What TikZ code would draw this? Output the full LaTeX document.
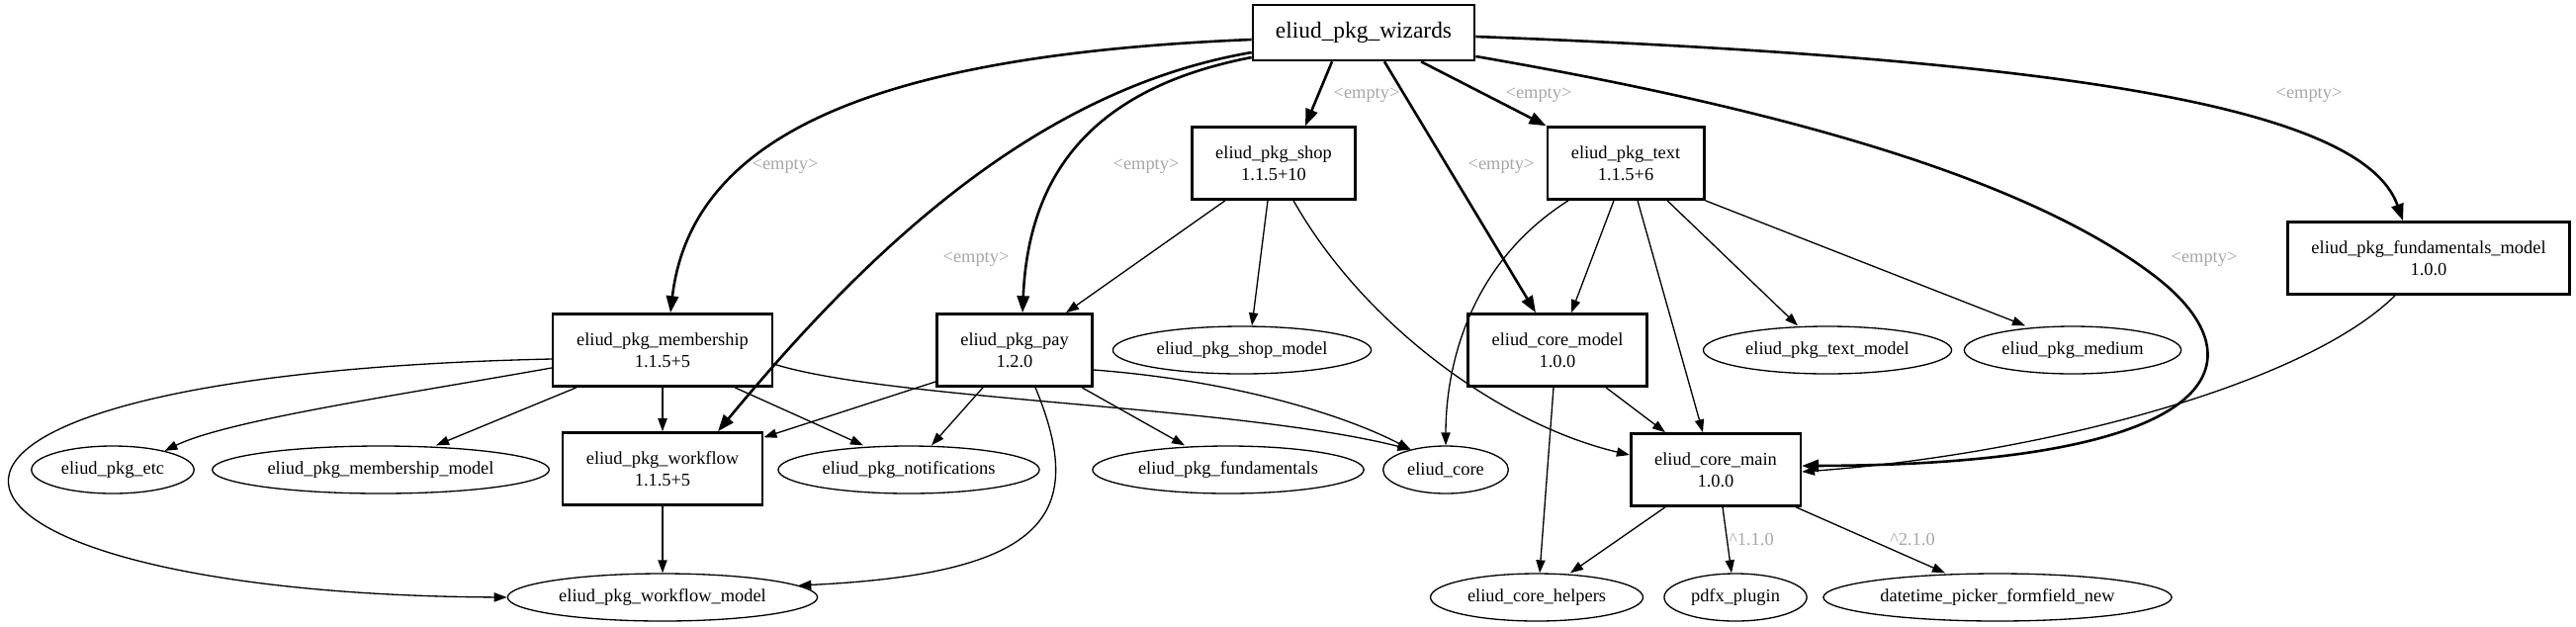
\documentclass[tikz,border=0pt]{standalone}
\usepackage{fontspec}
\setmainfont{Liberation Serif}
\usetikzlibrary{shapes.geometric, arrows.meta}

\begin{document}
\begin{tikzpicture}[
    x=0.5pt, y=-0.5pt,
    % --- Global Styles ---
    base/.style={draw, align=center, font=\fontsize{9.2}{10.8}\selectfont},
    pkg/.style={base, rectangle, line width=1.3pt, minimum height=36.5pt, inner xsep=12pt},
    root/.style={pkg, font=\fontsize{11.7}{14}\selectfont, minimum height=28pt, inner xsep=11.5pt},
    dep/.style={base, ellipse, line width=0.66pt, minimum height=24pt, inner xsep=3pt, inner ysep=1pt},
    arrow/.style={-{Triangle[length=6.5pt, width=4.6pt]}, line width=0.66pt},
    strong arrow/.style={-{Triangle[length=8.5pt, width=6.2pt]}, line width=1.3pt},
    version/.style={font=\fontsize{9.2}{10.8}\selectfont, text=black!35, inner sep=0pt}
]

    \useasboundingbox (0,0) rectangle (2605,633);

    % --- Nodes & Absolute Positioning ---

    \node[root] (wizards) at (1379,33) {eliud\_pkg\_wizards};

    \node[pkg] (shop) at (1288,165) {eliud\_pkg\_shop\\1.1.5+10};
    \node[pkg] (text) at (1644,165) {eliud\_pkg\_text\\1.1.5+6};
    \node[pkg] (fundmodel) at (2456,261) {eliud\_pkg\_fundamentals\_model\\1.0.0};

    \node[pkg] (membership) at (670,354) {eliud\_pkg\_membership\\1.1.5+5};
    \node[pkg] (pay) at (1026,354) {eliud\_pkg\_pay\\1.2.0};
    \node[dep] (shopmodel) at (1256,354) {eliud\_pkg\_shop\_model};
    \node[pkg] (coremodel) at (1575,354) {eliud\_core\_model\\1.0.0};
    \node[dep] (textmodel) at (1848,354) {eliud\_pkg\_text\_model};
    \node[dep] (medium) at (2096,354) {eliud\_pkg\_medium};

    \node[dep] (etc) at (114,475) {eliud\_pkg\_etc};
    \node[dep] (membershipmodel) at (385,475) {eliud\_pkg\_membership\_model};
    \node[pkg] (workflow) at (670,474) {eliud\_pkg\_workflow\\1.1.5+5};
    \node[dep] (notifications) at (919,475) {eliud\_pkg\_notifications};
    \node[dep] (fundamentals) at (1242,475) {eliud\_pkg\_fundamentals};
    \node[dep] (core) at (1462,475) {eliud\_core};
    \node[pkg] (coremain) at (1735,475) {eliud\_core\_main\\1.0.0};

    \node[dep] (workflowmodel) at (670,604) {eliud\_pkg\_workflow\_model};
    \node[dep] (corehelpers) at (1554,604) {eliud\_core\_helpers};
    \node[dep] (pdfx) at (1755,604) {pdfx\_plugin};
    \node[dep] (datetime) at (2020,604) {datetime\_picker\_formfield\_new};

    % --- Edges out of the wizards package ---

    \draw[strong arrow] ([yshift=-3.5pt]wizards.west) .. controls (900,55) and (700,130) .. ([xshift=4pt]membership.north)
        node[version] (lmembership) at (794,168) {<empty>};
    \draw[strong arrow] ([yshift=-10pt]wizards.west) .. controls (1050,90) and (880,250) .. ([xshift=28pt]workflow.north)
        node[version] (lworkflow) at (987,262) {<empty>};
    \draw[strong arrow] ([yshift=-12.5pt]wizards.west) .. controls (1100,90) and (1040,180) .. ([xshift=4pt]pay.north)
        node[version] (lpay) at (1159,168) {<empty>};
    \draw[strong arrow] ([xshift=-16pt]wizards.south) -- ([xshift=16pt]shop.north)
        node[version] (lshop) at (1382,96) {<empty>};
    \draw[strong arrow] ([xshift=10.5pt]wizards.south) -- ([xshift=-11pt]coremodel.north)
        node[version] (lcoremodel) at (1518,168) {<empty>};
    \draw[strong arrow] ([xshift=29pt]wizards.south) -- (text.north west)
        node[version] (ltext) at (1556,96) {<empty>};
    % wide swing on the right, back into the main package
    \draw[strong arrow] ([yshift=-12pt]wizards.east) .. controls (1800,110) and (2050,180) .. (2180,280)
        .. controls (2290,365) and (2250,470) .. ([yshift=2pt]coremain.east)
        node[version] (lcoremain) at (2229,262) {<empty>};
    \draw[strong arrow] ([yshift=-2pt]wizards.east) .. controls (2100,60) and (2390,110) .. ([xshift=-13pt]fundmodel.north)
        node[version] (lfundmodel) at (2335,96) {<empty>};

    % --- Edges out of shop and text ---

    \draw[arrow] ([xshift=-24.5pt]shop.south) -- ([xshift=26pt]pay.north);
    \draw[arrow] ([xshift=-3pt]shop.south) -- ([xshift=5pt]shopmodel.north);
    \draw[arrow] ([xshift=10pt]shop.south) .. controls (1380,330) and (1520,430) .. ([yshift=7.5pt]coremain.west);

    \draw[arrow] ([xshift=-29pt]text.south) .. controls (1480,270) and (1462,380) .. (core.north);
    \draw[arrow] ([xshift=-6pt]text.south) -- ([xshift=7pt]coremodel.north);
    \draw[arrow] ([xshift=6pt]text.south) -- ([xshift=-6.5pt]coremain.north);
    \draw[arrow] ([xshift=21pt]text.south) -- ([xshift=-15pt]textmodel.north);
    \draw[arrow] (text.south east) -- ([xshift=-24pt]medium.north);

    % --- Edges out of membership and pay ---

    \draw[arrow] ([yshift=-4.5pt]membership.west) .. controls (-210,380) and (-120,600) .. (workflowmodel.west);
    \draw[arrow] ([yshift=-9pt]membership.west) .. controls (400,400) and (230,425) .. (etc.20);
    \draw[arrow] ([xshift=-43.5pt]membership.south) -- ([xshift=28pt]membershipmodel.north);
    \draw[arrow] (membership) -- (workflow);
    \draw[arrow] ([xshift=36.5pt]membership.south) -- ([xshift=-23pt]notifications.north);
    \draw[arrow] ([yshift=-7pt]membership.east) .. controls (900,405) and (1250,410) .. (core.150);

    \draw[arrow] ([yshift=-16pt]pay.west) -- ([yshift=-3pt]workflow.north east);
    \draw[arrow] ([xshift=-16pt]pay.south) -- ([xshift=11.5pt]notifications.north);
    \draw[arrow] ([xshift=34pt]pay.south) -- ([xshift=-22pt]fundamentals.north);
    \draw[arrow] ([yshift=-10pt]pay.east) .. controls (1250,385) and (1360,420) .. (core.150);
    \draw[arrow] ([xshift=10.5pt]pay.south) .. controls (1100,520) and (1060,580) .. (workflowmodel.5);

    \draw[arrow] (workflow) -- (workflowmodel);

    % --- Core packages ---

    \draw[arrow] ([xshift=24.5pt]coremodel.south) -- ([xshift=-25.5pt]coremain.north);
    \draw[arrow] ([xshift=-2pt]coremodel.south) -- ([xshift=1.5pt]corehelpers.north);
    \draw[arrow] ([xshift=-17pt]fundmodel.south) .. controls (2330,390) and (2060,460) .. ([yshift=-1pt]coremain.east);

    \draw[arrow] ([xshift=-25.5pt]coremain.south) -- ([xshift=17pt]corehelpers.north);
    \draw[arrow] ([xshift=3.5pt]coremain.south) -- ([xshift=-2pt]pdfx.north)
        node[version] (lpdfx) at (1771,546) {\textasciicircum1.1.0};
    \draw[arrow] ([xshift=-3pt]coremain.south east) -- ([xshift=-26.5pt]datetime.north)
        node[version] (ldatetime) at (1934,546) {\textasciicircum2.1.0};

\end{tikzpicture}
\end{document}
